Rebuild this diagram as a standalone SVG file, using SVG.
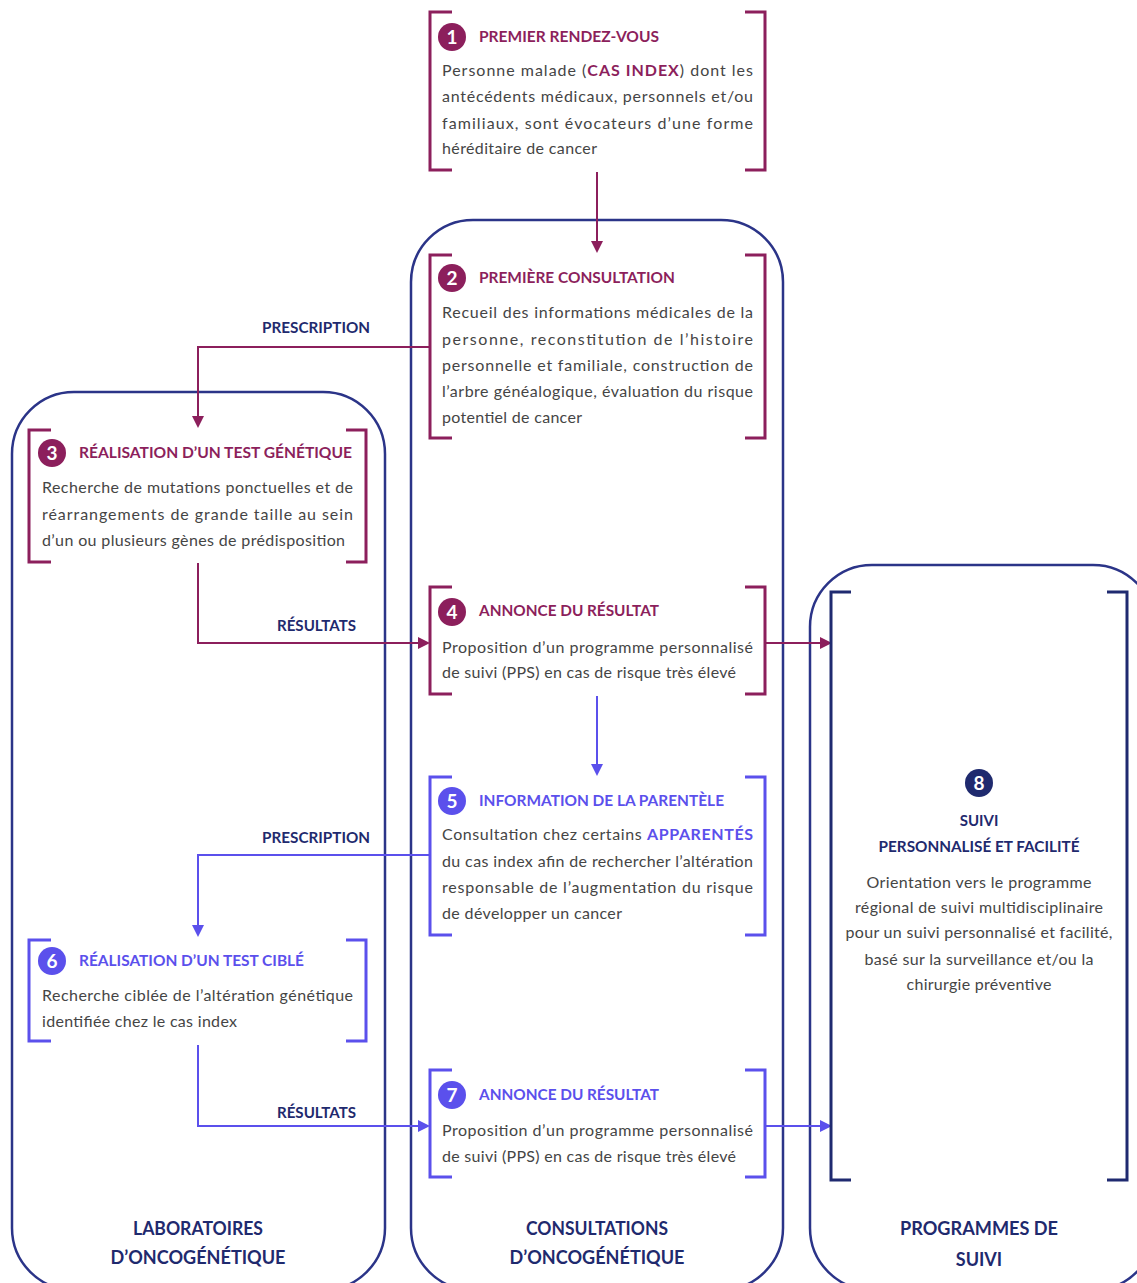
<svg xmlns="http://www.w3.org/2000/svg" width="1137" height="1283" viewBox="0 0 1137 1283">
<defs>
<style>
.cont{fill:none;stroke:#2b3488;stroke-width:2.5}
.brP{fill:none;stroke:#8c1f5c;stroke-width:3}
.brB{fill:none;stroke:#5b50ec;stroke-width:3}
.brN{fill:none;stroke:#1f2a70;stroke-width:3}
.lnP{fill:none;stroke:#8c1f5c;stroke-width:2}
.lnB{fill:none;stroke:#5b50ec;stroke-width:2}
.t{font-family:Lato,"Liberation Sans",sans-serif}
.body{font-size:16px;fill:#454545}
.ttlP{font-size:15.5px;font-weight:bold;fill:#8c1f5c}
.ttlB{font-size:15.5px;font-weight:bold;fill:#5b50ec}
.num{font-size:19px;font-weight:bold;fill:#fff;text-anchor:middle}
.lbl{font-size:15px;font-weight:bold;fill:#1f2a6e}
.cl{font-size:18px;font-weight:bold;fill:#1f2a6e;text-anchor:middle}
.mid{text-anchor:middle}
</style>
<marker id="aP" markerWidth="12" markerHeight="12" refX="10" refY="6" orient="auto" markerUnits="userSpaceOnUse"><path d="M0,0 L12,6 L0,12 z" fill="#8c1f5c"/></marker>
<marker id="aB" markerWidth="12" markerHeight="12" refX="10" refY="6" orient="auto" markerUnits="userSpaceOnUse"><path d="M0,0 L12,6 L0,12 z" fill="#5b50ec"/></marker>
</defs>
<rect width="1137" height="1283" fill="#fff"/>

<g id="containers">
<rect id="c-labo" class="cont" x="12" y="392" width="373" height="898" rx="62"/>
<rect id="c-consult" class="cont" x="411" y="220" width="372" height="1070" rx="62"/>
<rect id="c-prog" class="cont" x="810" y="565" width="345" height="725" rx="62"/>
<text class="t cl" x="198" y="1235" textLength="130" lengthAdjust="spacingAndGlyphs">LABORATOIRES</text>
<text class="t cl" x="198" y="1264" textLength="175" lengthAdjust="spacingAndGlyphs">D’ONCOGÉNÉTIQUE</text>
<text class="t cl" x="597" y="1235" textLength="142" lengthAdjust="spacingAndGlyphs">CONSULTATIONS</text>
<text class="t cl" x="597" y="1264" textLength="175" lengthAdjust="spacingAndGlyphs">D’ONCOGÉNÉTIQUE</text>
<text class="t cl" x="979" y="1235" textLength="158" lengthAdjust="spacingAndGlyphs">PROGRAMMES DE</text>
<text class="t cl" x="979" y="1266">SUIVI</text>
</g>

<g id="connectors">
<line class="lnP" x1="597" y1="172" x2="597" y2="251" marker-end="url(#aP)"/>
<polyline class="lnP" points="430,347 198,347 198,426" marker-end="url(#aP)"/>
<polyline class="lnP" points="198,563 198,643 428,643" marker-end="url(#aP)"/>
<line class="lnP" x1="765" y1="643" x2="830" y2="643" marker-end="url(#aP)"/>
<line class="lnB" x1="597" y1="696" x2="597" y2="774" marker-end="url(#aB)"/>
<polyline class="lnB" points="430,855 198,855 198,935" marker-end="url(#aB)"/>
<polyline class="lnB" points="198,1045 198,1126 428,1126" marker-end="url(#aB)"/>
<line class="lnB" x1="765" y1="1126" x2="830" y2="1126" marker-end="url(#aB)"/>
<text class="t lbl" x="262" y="333" textLength="108" lengthAdjust="spacingAndGlyphs">PRESCRIPTION</text>
<text class="t lbl" x="277" y="631" textLength="79" lengthAdjust="spacingAndGlyphs">RÉSULTATS</text>
<text class="t lbl" x="262" y="843" textLength="108" lengthAdjust="spacingAndGlyphs">PRESCRIPTION</text>
<text class="t lbl" x="277" y="1118" textLength="79" lengthAdjust="spacingAndGlyphs">RÉSULTATS</text>
</g>

<g id="node1">
<path class="brP" d="M452,12 H430 V170 H452 M745,12 H765 V170 H745"/>
<circle cx="452" cy="37" r="14" fill="#8c1f5c"/>
<text class="t num" x="452" y="44">1</text>
<text class="t ttlP" x="479" y="42" textLength="180" lengthAdjust="spacingAndGlyphs">PREMIER RENDEZ-VOUS</text>
<text class="t body" x="442" y="76" textLength="311" lengthAdjust="spacing">Personne malade (<tspan font-weight="bold" fill="#8c1f5c">CAS INDEX</tspan>) dont les</text>
<text class="t body" x="442" y="102" textLength="311" lengthAdjust="spacing">antécédents médicaux, personnels et/ou</text>
<text class="t body" x="442" y="129" textLength="311" lengthAdjust="spacing">familiaux, sont évocateurs d’une forme</text>
<text class="t body" x="442" y="154" textLength="155" lengthAdjust="spacing">héréditaire de cancer</text>
</g>

<g id="node2">
<path class="brP" d="M452,255 H430 V438 H452 M745,255 H765 V438 H745"/>
<circle cx="452" cy="278" r="14" fill="#8c1f5c"/>
<text class="t num" x="452" y="285">2</text>
<text class="t ttlP" x="479" y="283" textLength="196" lengthAdjust="spacingAndGlyphs">PREMIÈRE CONSULTATION</text>
<text class="t body" x="442" y="318" textLength="311" lengthAdjust="spacing">Recueil des informations médicales de la</text>
<text class="t body" x="442" y="345" textLength="311" lengthAdjust="spacing">personne, reconstitution de l’histoire</text>
<text class="t body" x="442" y="371" textLength="311" lengthAdjust="spacing">personnelle et familiale, construction de</text>
<text class="t body" x="442" y="397" textLength="311" lengthAdjust="spacing">l’arbre généalogique, évaluation du risque</text>
<text class="t body" x="442" y="423" textLength="140" lengthAdjust="spacing">potentiel de cancer</text>
</g>

<g id="node3">
<path class="brP" d="M51,430 H29 V562 H51 M346,430 H366 V562 H346"/>
<circle cx="52" cy="453" r="14" fill="#8c1f5c"/>
<text class="t num" x="52" y="460">3</text>
<text class="t ttlP" x="79" y="458" textLength="273" lengthAdjust="spacingAndGlyphs">RÉALISATION D’UN TEST GÉNÉTIQUE</text>
<text class="t body" x="42" y="493" textLength="311" lengthAdjust="spacing">Recherche de mutations ponctuelles et de</text>
<text class="t body" x="42" y="520" textLength="311" lengthAdjust="spacing">réarrangements de grande taille au sein</text>
<text class="t body" x="42" y="546" textLength="303" lengthAdjust="spacing">d’un ou plusieurs gènes de prédisposition</text>
</g>

<g id="node4">
<path class="brP" d="M452,587 H430 V694 H452 M745,587 H765 V694 H745"/>
<circle cx="452" cy="612" r="14" fill="#8c1f5c"/>
<text class="t num" x="452" y="619">4</text>
<text class="t ttlP" x="479" y="616" textLength="180" lengthAdjust="spacingAndGlyphs">ANNONCE DU RÉSULTAT</text>
<text class="t body" x="442" y="653" textLength="311" lengthAdjust="spacing">Proposition d’un programme personnalisé</text>
<text class="t body" x="442" y="678" textLength="294" lengthAdjust="spacing">de suivi (PPS) en cas de risque très élevé</text>
</g>

<g id="node5">
<path class="brB" d="M452,777 H430 V935 H452 M745,777 H765 V935 H745"/>
<circle cx="452" cy="801" r="14" fill="#5b50ec"/>
<text class="t num" x="452" y="808">5</text>
<text class="t ttlB" x="479" y="806" textLength="245" lengthAdjust="spacingAndGlyphs">INFORMATION DE LA PARENTÈLE</text>
<text class="t body" x="442" y="840" textLength="311" lengthAdjust="spacing">Consultation chez certains <tspan font-weight="bold" fill="#5b50ec">APPARENTÉS</tspan></text>
<text class="t body" x="442" y="867" textLength="311" lengthAdjust="spacing">du cas index afin de rechercher l’altération</text>
<text class="t body" x="442" y="893" textLength="311" lengthAdjust="spacing">responsable de l’augmentation du risque</text>
<text class="t body" x="442" y="919" textLength="180" lengthAdjust="spacing">de développer un cancer</text>
</g>

<g id="node6">
<path class="brB" d="M51,940 H29 V1041 H51 M346,940 H366 V1041 H346"/>
<circle cx="52" cy="961" r="14" fill="#5b50ec"/>
<text class="t num" x="52" y="968">6</text>
<text class="t ttlB" x="79" y="966" textLength="225" lengthAdjust="spacingAndGlyphs">RÉALISATION D’UN TEST CIBLÉ</text>
<text class="t body" x="42" y="1001" textLength="311" lengthAdjust="spacing">Recherche ciblée de l’altération génétique</text>
<text class="t body" x="42" y="1027" textLength="195" lengthAdjust="spacing">identifiée chez le cas index</text>
</g>

<g id="node7">
<path class="brB" d="M452,1070 H430 V1177 H452 M745,1070 H765 V1177 H745"/>
<circle cx="452" cy="1095" r="14" fill="#5b50ec"/>
<text class="t num" x="452" y="1102">7</text>
<text class="t ttlB" x="479" y="1100" textLength="180" lengthAdjust="spacingAndGlyphs">ANNONCE DU RÉSULTAT</text>
<text class="t body" x="442" y="1136" textLength="311" lengthAdjust="spacing">Proposition d’un programme personnalisé</text>
<text class="t body" x="442" y="1162" textLength="294" lengthAdjust="spacing">de suivi (PPS) en cas de risque très élevé</text>
</g>

<g id="node8">
<path class="brN" d="M851,592 H831 V1180 H851 M1107,592 H1127 V1180 H1107"/>
<circle cx="979" cy="783" r="14" fill="#1f2a6e"/>
<text class="t num" x="979" y="790">8</text>
<text class="t lbl mid" x="979" y="826">SUIVI</text>
<text class="t lbl mid" x="979" y="852" textLength="201" lengthAdjust="spacingAndGlyphs">PERSONNALISÉ ET FACILITÉ</text>
<text class="t body mid" x="979" y="888" textLength="225" lengthAdjust="spacing">Orientation vers le programme</text>
<text class="t body mid" x="979" y="913" textLength="248" lengthAdjust="spacing">régional de suivi multidisciplinaire</text>
<text class="t body mid" x="979" y="938" textLength="267" lengthAdjust="spacing">pour un suivi personnalisé et facilité,</text>
<text class="t body mid" x="979" y="965" textLength="229" lengthAdjust="spacing">basé sur la surveillance et/ou la</text>
<text class="t body mid" x="979" y="990" textLength="145" lengthAdjust="spacing">chirurgie préventive</text>
</g>
</svg>
